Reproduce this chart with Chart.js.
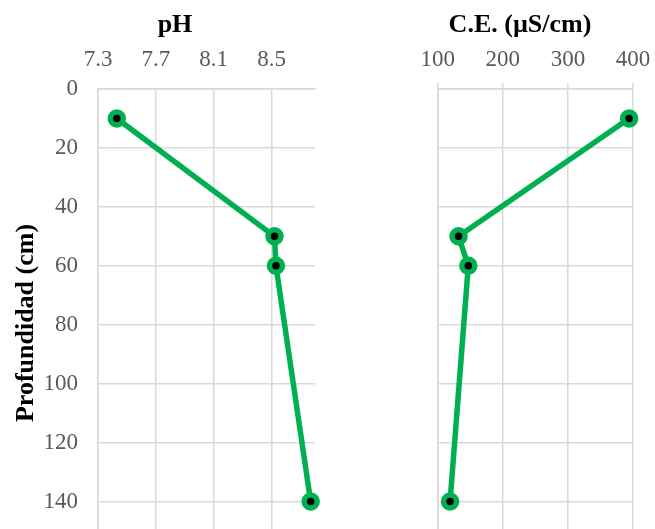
<!DOCTYPE html>
<html>
<head>
<meta charset="utf-8">
<script src="https://cdn.jsdelivr.net/npm/chart.js@4.4.1/dist/chart.umd.min.js"></script>
<style>
  html, body { margin: 0; padding: 0; background: #fff; overflow: hidden; width: 655px; height: 529px; }
  canvas { position: absolute; top: 0; }
  #phChart { left: 0; }
  #ceChart { left: 340px; }
</style>
</head>
<body>
<canvas id="phChart" width="340" height="531"></canvas>
<canvas id="ceChart" width="315" height="531"></canvas>
<script>
// Soil profile: sampling depths (cm) and measured values
const depths = [10, 50, 60, 140];
const phValues = [7.43, 8.52, 8.53, 8.77];
const ceValues = [394, 132, 147, 119];

// Axis tick labels
const phTicks = [7.3, 7.7, 8.1, 8.5];
const ceTicks = [100, 200, 300, 400];
const depthTicks = [0, 20, 40, 60, 80, 100, 120, 140];

const SERIF = '"Liberation Serif", "Times New Roman", serif';
const GREEN = '#00B050';
const GRID = '#d9d9d9';
const TICK_TEXT = '#595959';
const PLOT_TOP = 89;

const pairs = values => values.map((v, i) => ({ x: v, y: depths[i] }));
const fixedTicks = list => scale => { scale.ticks = list.map(v => ({ value: v })); };

// Bold caption above each panel (and the rotated depth caption on the left panel)
const captions = {
  id: 'captions',
  afterDraw(chart, args, opts) {
    const ctx = chart.ctx;
    ctx.save();
    ctx.fillStyle = '#000';
    ctx.font = 'bold 26px ' + SERIF;
    ctx.textAlign = 'center';
    ctx.textBaseline = 'alphabetic';
    ctx.fillText(opts.title, opts.titleX, 32);
    if (opts.yTitle) {
      ctx.translate(33, 323);
      ctx.rotate(-Math.PI / 2);
      ctx.fillText(opts.yTitle, 0, 0);
    }
    ctx.restore();
  }
};

function makePanel(id, cfg) {
  return new Chart(document.getElementById(id), {
    type: 'scatter',
    data: {
      datasets: [{
        data: pairs(cfg.values),
        showLine: true,
        borderColor: GREEN,
        borderWidth: 5.5,
        tension: 0,
        pointRadius: 6.5,
        pointHoverRadius: 6.5,
        pointBorderWidth: 5.5,
        pointBackgroundColor: '#000',
        pointBorderColor: GREEN,
        clip: false
      }]
    },
    options: {
      responsive: false,
      animation: false,
      devicePixelRatio: 1,
      events: [],
      layout: { autoPadding: false, padding: { left: 0, right: cfg.padRight, top: 0, bottom: 0 } },
      plugins: {
        legend: { display: false },
        tooltip: { enabled: false },
        title: { display: false },
        captions: { title: cfg.title, titleX: cfg.titleX, yTitle: cfg.yTitle }
      },
      scales: {
        x: {
          type: 'linear',
          position: 'top',
          min: cfg.min,
          max: cfg.max,
          afterBuildTicks: fixedTicks(cfg.ticks),
          grid: { color: GRID, lineWidth: 1.5, drawTicks: cfg.tickMarks, tickLength: 6 },
          border: { display: true, color: GRID, width: 1.5 },
          ticks: {
            color: TICK_TEXT,
            font: { family: SERIF, size: 23 },
            padding: cfg.tickMarks ? 9 : 15,
            maxRotation: 0,
            callback: v => v.toFixed(cfg.decimals)
          },
          afterFit: s => { s.height = PLOT_TOP; s.paddingLeft = 0; s.paddingRight = 0; }
        },
        y: {
          type: 'linear',
          reverse: true,
          min: 0,
          max: 150,
          afterBuildTicks: fixedTicks(depthTicks),
          grid: { color: GRID, lineWidth: 1.5, drawTicks: false },
          border: { display: true, color: GRID, width: 1.5 },
          ticks: {
            display: cfg.showDepth,
            color: TICK_TEXT,
            font: { family: SERIF, size: 23 },
            padding: 20
          },
          afterFit: s => { s.width = cfg.axisWidth; s.paddingTop = 0; s.paddingBottom = 0; }
        }
      }
    },
    plugins: [captions]
  });
}

makePanel('phChart', {
  values: phValues, ticks: phTicks, min: 7.3, max: 8.8, decimals: 1,
  title: 'pH', titleX: 175, yTitle: 'Profundidad (cm)',
  tickMarks: false, showDepth: true, axisWidth: 98, padRight: 25
});

makePanel('ceChart', {
  values: ceValues, ticks: ceTicks, min: 100, max: 400, decimals: 0,
  title: 'C.E. (\u00b5S/cm)', titleX: 180, yTitle: null,
  tickMarks: true, showDepth: false, axisWidth: 97.7, padRight: 22
});
</script>
</body>
</html>
